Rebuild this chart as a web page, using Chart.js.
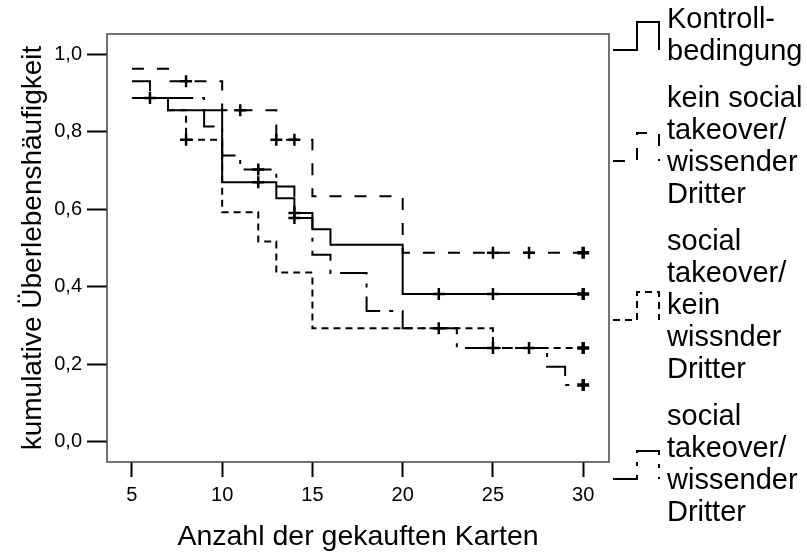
<!DOCTYPE html>
<html>
<head>
<meta charset="utf-8">
<script src="https://cdn.jsdelivr.net/npm/chart.js@4.4.1/dist/chart.umd.min.js"></script>
<style>
  body { margin: 0; background: #fff; }
</style>
</head>
<body>
<canvas id="survivalChart" width="807" height="556"></canvas>
<script>
// Axis ticks
const xTicks = [5, 10, 15, 20, 25, 30];
const yTicks = [0, 0.2, 0.4, 0.6, 0.8, 1.0];
const yTickLabels = ['0,0', '0,2', '0,4', '0,6', '0,8', '1,0'];

// Kontrollbedingung (solid)
const controlX = [5, 7, 10, 13, 14, 15, 16, 20, 30];
const controlY = [0.887, 0.855, 0.669, 0.628, 0.590, 0.548, 0.508, 0.381, 0.381];
const controlCensor = [6, 12, 14, 22, 25, 30];

// kein social takeover / wissender Dritter (long dash)
const noTakeoverX = [5, 7, 10, 13, 15, 20, 30];
const noTakeoverY = [0.962, 0.930, 0.855, 0.779, 0.633, 0.487, 0.487];
const noTakeoverCensor = [8, 11, 13, 14, 25, 27, 30];

// social takeover / kein wissnder Dritter (short dash)
const takeoverNoThirdX = [5, 7, 8, 10, 12, 13, 15, 25, 30];
const takeoverNoThirdY = [0.887, 0.855, 0.779, 0.592, 0.516, 0.436, 0.292, 0.241, 0.241];
const takeoverNoThirdCensor = [8, 22, 30];

// social takeover / wissender Dritter (dash dot)
const takeoverThirdX = [5, 6, 9, 10, 11, 13, 14, 15, 16, 18, 20, 23, 28, 29, 30];
const takeoverThirdY = [0.930, 0.887, 0.813, 0.738, 0.702, 0.658, 0.577, 0.482, 0.435, 0.337, 0.292, 0.241, 0.193, 0.146, 0.146];
const takeoverThirdCensor = [12, 14, 25, 27, 30];

const legendLabels = [
  ['Kontroll-', 'bedingung'],
  ['kein social', 'takeover/', 'wissender', 'Dritter'],
  ['social', 'takeover/', 'kein', 'wissnder', 'Dritter'],
  ['social', 'takeover/', 'wissender', 'Dritter']
];

const seriesDash = [[], [12, 13], [7, 5], [28, 9, 4, 9]];

const FONT = '"Liberation Sans", Arial, sans-serif';

//Build step points and censor marks
function steps(xs, ys){
  return xs.map((x, i) => ({x: x, y: ys[i]}));
}
function levelAt(xs, ys, x){
  let v = ys[0];
  xs.forEach((t, i) => { if (t <= x) v = ys[i]; });
  return v;
}
function censors(xs, ys, cx){
  return cx.map(x => ({x: x, y: levelAt(xs, ys, x)}));
}

const series = [
  [controlX, controlY, controlCensor],
  [noTakeoverX, noTakeoverY, noTakeoverCensor],
  [takeoverNoThirdX, takeoverNoThirdY, takeoverNoThirdCensor],
  [takeoverThirdX, takeoverThirdY, takeoverThirdCensor]
];

const datasets = [];
series.forEach((s, i) => {
  datasets.push({
    label: legendLabels[i].join(' '),
    data: steps(s[0], s[1]),
    stepped: 'before',
    borderColor: '#000',
    borderWidth: 2,
    borderDash: seriesDash[i],
    pointRadius: 0,
    fill: false
  });
});
series.forEach((s, i) => {
  datasets.push({
    label: 'censor ' + i,
    data: censors(s[0], s[1], s[2]),
    showLine: false,
    pointStyle: 'cross',
    pointRadius: 6,
    pointBorderColor: '#000',
    pointBorderWidth: c => (c.raw && c.raw.x === 30 ? 3.5 : 2.5)
  });
});

//Frame around plot and step legend on the right
const frameAndLegend = {
  id: 'frameAndLegend',
  afterDatasetsDraw(chart){
    const {ctx, chartArea: a} = chart;
    ctx.save();
    ctx.strokeStyle = '#444';
    ctx.lineWidth = 1.5;
    ctx.setLineDash([]);
    ctx.strokeRect(a.left, a.top, a.right - a.left, a.bottom - a.top);

    ctx.font = '29px ' + FONT;
    ctx.fillStyle = '#000';
    ctx.textBaseline = 'middle';
    ctx.textAlign = 'left';
    let y = 20;
    legendLabels.forEach((lines, i) => {
      lines.forEach((t, j) => ctx.fillText(t, 667, y + j * 32));
      const last = y + (lines.length - 1) * 32;
      const c = (y + last) / 2;
      ctx.strokeStyle = '#000';
      ctx.lineWidth = 2;
      ctx.setLineDash(seriesDash[i]);
      ctx.beginPath();
      ctx.moveTo(613, c + 14);
      ctx.lineTo(637, c + 14);
      ctx.lineTo(637, c - 14);
      ctx.lineTo(659, c - 14);
      ctx.lineTo(659, c + 14);
      ctx.stroke();
      y = last + 47;
    });
    ctx.restore();
  }
};

new Chart(document.querySelector('#survivalChart'), {
  type: 'line',
  data: { datasets: datasets },
  plugins: [frameAndLegend],
  options: {
    responsive: false,
    animation: false,
    layout: { padding: { top: 34, right: 198, left: 0, bottom: 0 } },
    plugins: {
      legend: { display: false },
      tooltip: { enabled: false }
    },
    scales: {
      x: {
        type: 'linear',
        min: 3.62,
        max: 31.43,
        afterBuildTicks: scale => { scale.ticks = xTicks.map(v => ({value: v})); },
        afterFit: scale => { scale.height = 94; },
        ticks: {
          autoSkip: false,
          maxRotation: 0,
          padding: 6,
          color: '#000',
          font: { family: FONT, size: 20 }
        },
        grid: { drawOnChartArea: false, tickLength: 15, tickColor: '#000', tickWidth: 2, color: '#000' },
        border: { display: false },
        title: {
          display: true,
          text: 'Anzahl der gekauften Karten',
          color: '#000',
          font: { family: FONT, size: 28.5 },
          padding: { top: 0, bottom: 2 }
        }
      },
      y: {
        type: 'linear',
        min: -0.053,
        max: 1.052,
        afterBuildTicks: scale => { scale.ticks = yTicks.map(v => ({value: v})); },
        afterFit: scale => { scale.width = 107; },
        ticks: {
          autoSkip: false,
          padding: 5,
          color: '#000',
          font: { family: FONT, size: 20 },
          callback: v => yTickLabels[yTicks.indexOf(v)]
        },
        grid: { drawOnChartArea: false, tickLength: 20, tickColor: '#000', tickWidth: 2, color: '#000' },
        border: { display: false },
        title: {
          display: true,
          text: 'kumulative Überlebenshäufigkeit',
          color: '#000',
          font: { family: FONT, size: 28 },
          padding: { top: 16, bottom: 0 }
        }
      }
    }
  }
});
</script>
</body>
</html>
